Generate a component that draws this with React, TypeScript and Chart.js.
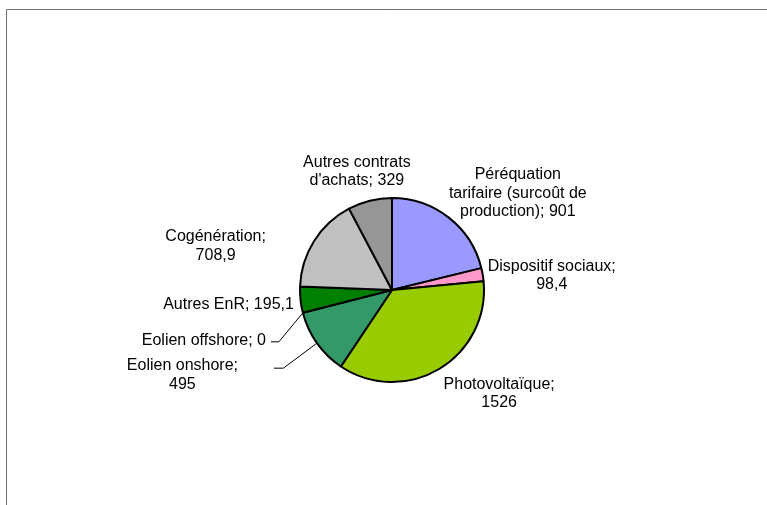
import React, { useEffect, useRef } from "react";
import { Chart, registerables } from "chart.js";

Chart.register(...registerables);

const categories = [
  "Péréquation tarifaire (surcoût de production)",
  "Dispositif sociaux",
  "Photovoltaïque",
  "Eolien onshore",
  "Eolien offshore",
  "Autres EnR",
  "Cogénération",
  "Autres contrats d'achats",
];
const values = [901, 98.4, 1526, 495, 0, 195.1, 708.9, 329];
const valueLabels = ["901", "98,4", "1526", "495", "0", "195,1", "708,9", "329"];
const colors = ["#9999FF", "#FF99CC", "#99CC00", "#339966", "#003366", "#008000", "#C0C0C0", "#969696"];
// how each label's text is broken into lines
const labelLines = [
  ["Péréquation", "tarifaire (surcoût de", "production); 901"],
  ["Dispositif sociaux;", "98,4"],
  ["Photovoltaïque;", "1526"],
  ["Eolien onshore;", "495"],
  ["Eolien offshore; 0"],
  ["Autres EnR; 195,1"],
  ["Cogénération;", "708,9"],
  ["Autres contrats", "d'achats; 329"],
];

const FONT = '16px "Liberation Sans", Arial, sans-serif';

// label placement relative to slice mid-point on the rim: [dx, dy of first baseline]
const labelOffsets: [number, number][] = [
  [69, -38.5],
  [69, -4],
  [60, 20],
  [-134.5, 27],
  [-99, 32],
  [-72, 9],
  [-98.5, 0],
  [-13, -34],
];
// leader lines: [elbow dx, elbow dy, end dx] relative to rim point
const leaders: Record<number, [number, number, number]> = {
  3: [-33.5, 25, -43],
  4: [-24, 29, -32],
};

const frameAndLabels = {
  id: "frameAndLabels",
  beforeDraw(chart: any) {
    const ctx = chart.ctx;
    ctx.save();
    ctx.strokeStyle = "#707070";
    ctx.lineWidth = 1;
    ctx.beginPath();
    ctx.moveTo(6.5, chart.height);
    ctx.lineTo(6.5, 9.5);
    ctx.lineTo(chart.width, 9.5);
    ctx.stroke();
    ctx.restore();
  },
  afterDraw(chart: any) {
    const ctx = chart.ctx;
    const meta = chart.getDatasetMeta(0);
    ctx.save();
    ctx.font = FONT;
    ctx.fillStyle = "#000";
    ctx.textAlign = "center";
    ctx.textBaseline = "alphabetic";
    meta.data.forEach((arc: any, i: number) => {
      const p = arc.getProps(["x", "y", "startAngle", "endAngle", "outerRadius"], true);
      const mid = (p.startAngle + p.endAngle) / 2;
      const rx = p.x + Math.cos(mid) * p.outerRadius;
      const ry = p.y + Math.sin(mid) * p.outerRadius;
      const [dx, dy] = labelOffsets[i];
      const lines = labelLines[i];
      lines.forEach((ln, k) => {
        ctx.fillText(ln, rx + dx, ry + dy + k * 18.5);
      });
      const ld = leaders[i];
      if (ld) {
        ctx.strokeStyle = "#000";
        ctx.lineWidth = 1;
        ctx.beginPath();
        ctx.moveTo(rx, ry);
        ctx.lineTo(rx + ld[0], ry + ld[1]);
        ctx.lineTo(rx + ld[2], ry + ld[1]);
        ctx.stroke();
      }
    });
    ctx.restore();
  },
};

export default function App() {
  const ref = useRef<HTMLCanvasElement>(null);
  useEffect(() => {
    const chart = new Chart(ref.current!, {
      type: "pie",
      data: {
        labels: categories,
        datasets: [
          {
            data: values,
            backgroundColor: colors,
            borderColor: "#000",
            borderWidth: 2,
          },
        ],
      },
      options: {
        responsive: false,
        animation: false,
        radius: 92,
        layout: { padding: { left: 17, right: 0, top: 75, bottom: 0 } },
        plugins: {
          legend: { display: false },
          tooltip: { enabled: false },
        },
      } as any,
      plugins: [frameAndLabels],
    });
    return () => chart.destroy();
  }, []);
  return (
    <div style={{ position: "absolute", left: 0, top: 0, width: 767, height: 505, background: "#fff" }}>
      <canvas ref={ref} width={767} height={505} />
    </div>
  );
}
